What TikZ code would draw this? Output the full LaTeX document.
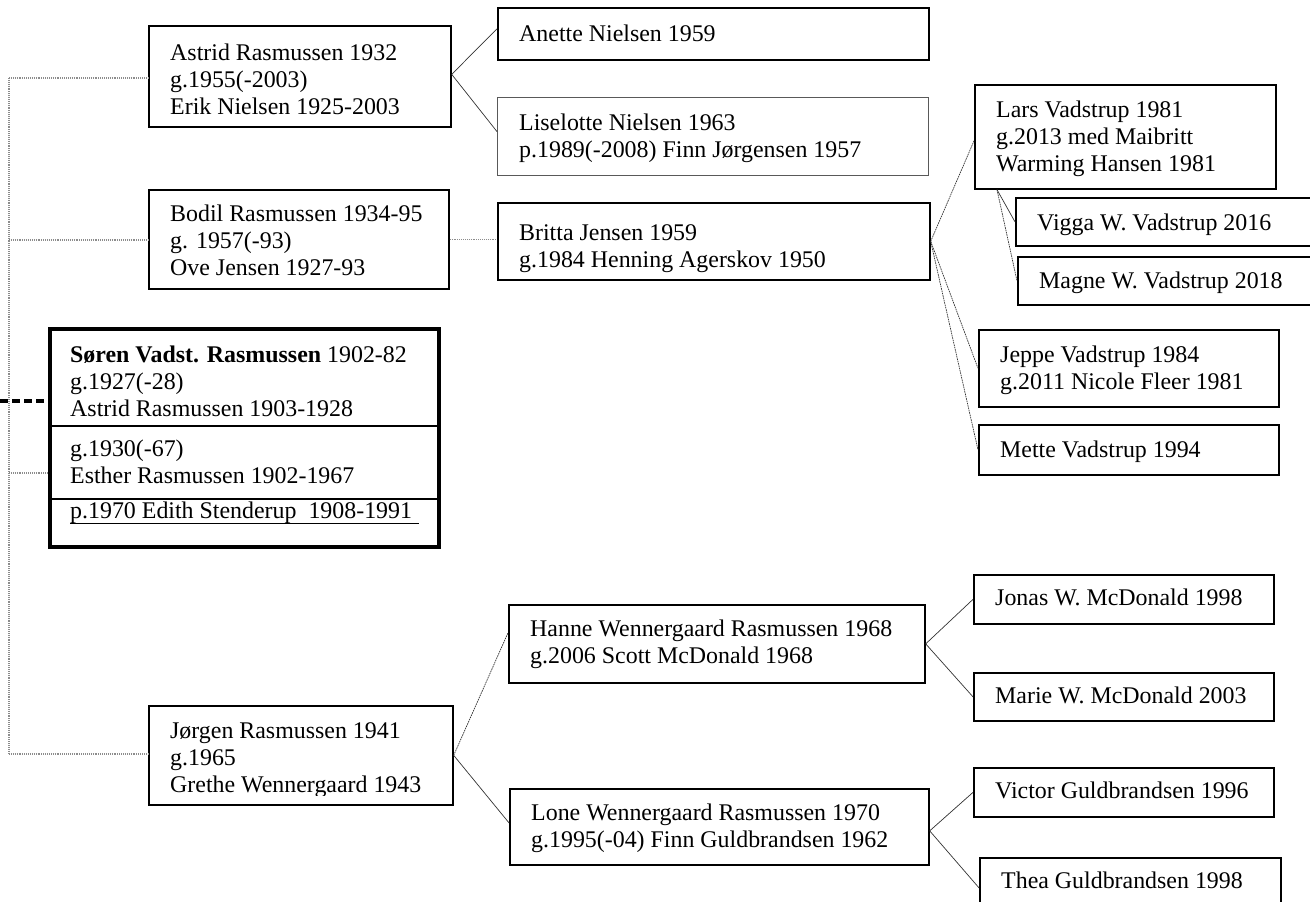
\documentclass[tikz,border=0pt]{standalone}
\usepackage{fontspec}
\setmainfont{Liberation Serif}
\usetikzlibrary{calc}
\newcommand\treefont{\fontsize{23.9}{27.3}\selectfont}
\begin{document}
\begin{tikzpicture}[x=1pt,y=-1pt,
  person/.style={draw=black,line width=1.7pt,inner sep=0pt,anchor=north west},
  faint/.style={person,draw=black!65,line width=1.2pt},
  label/.style={font=\treefont,align=left,inner sep=0pt,anchor=north west},
  tie/.style={draw=black!80,line width=0.7pt},
  finetie/.style={tie,dash pattern=on 1.6pt off 0.8pt},
  trunk/.style={draw=black!45,line width=1.3pt,dash pattern=on 1pt off 0.9pt},
  lineage/.style={draw=black,line width=4pt,dash pattern=on 8pt off 4pt},
  divider/.style={draw=black,line width=1.4pt},
]
\useasboundingbox (0,0) rectangle (1310,902);

% ---- boxes ----
\node[person,minimum width=302,minimum height=101] (astrid) at (148,25) {};
\node[person,minimum width=431,minimum height=52]  (anette) at (497,7) {};
\node[faint, minimum width=431,minimum height=78]  (lise)   at (497,97) {};
\node[person,minimum width=300,minimum height=99]  (bodil)  at (148,189) {};
\node[person,minimum width=432,minimum height=77]  (britta) at (497,202) {};
\node[person,minimum width=301,minimum height=104] (lars)   at (974,84) {};
\node[person,minimum width=305,minimum height=48]  (vigga)  at (1015,197) {};
\node[person,minimum width=303,minimum height=48]  (magne)  at (1017,256) {};
\node[person,minimum width=300,minimum height=77]  (jeppe)  at (978,329) {};
\node[person,minimum width=300,minimum height=50]  (mette)  at (978,424) {};
\node[person,line width=3.8pt,minimum width=389,minimum height=218] (soren) at (48,327) {};
\node[person,minimum width=304,minimum height=99]  (jorgen) at (148,705) {};
\node[person,minimum width=416,minimum height=78]  (hanne)  at (508,604) {};
\node[person,minimum width=419,minimum height=76]  (lone)   at (509,788) {};
\node[person,minimum width=300,minimum height=49]  (jonas)  at (973,574) {};
\node[person,minimum width=300,minimum height=48]  (marie)  at (973,672) {};
\node[person,minimum width=300,minimum height=49]  (victor) at (973,767) {};
\node[person,minimum width=301,minimum height=60]  (thea)   at (979,857) {};

% ---- texts ----
\node[label] (astrid-t) at ([shift={(22,16)}]astrid.north west) {\strut Astrid Rasmussen 1932\\g.1955(-2003)\\Erik Nielsen 1925-2003};
\node[label] (anette-t) at ([shift={(22,15)}]anette.north west) {\strut Anette Nielsen 1959};
\node[label] (lise-t)   at ([shift={(22,14)}]lise.north west) {\strut Liselotte Nielsen 1963\\p.1989(-2008) Finn Jørgensen 1957};
\node[label] (bodil-t)  at ([shift={(22,13)}]bodil.north west) {\strut Bodil Rasmussen 1934-95\\g. 1957(-93)\\Ove Jensen 1927-93};
\node[label] (britta-t) at ([shift={(22,19)}]britta.north west) {\strut Britta Jensen 1959\\g.1984 Henning Agerskov 1950};
\node[label] (lars-t)   at ([shift={(22,14)}]lars.north west) {\strut Lars Vadstrup 1981\\g.2013 med Maibritt\\Warming Hansen 1981};
\node[label] (vigga-t)  at ([shift={(22,14)}]vigga.north west) {\strut Vigga W. Vadstrup 2016};
\node[label] (magne-t)  at ([shift={(22,13)}]magne.north west) {\strut Magne W. Vadstrup 2018};
\node[label] (jeppe-t)  at ([shift={(22,14)}]jeppe.north west) {\strut Jeppe Vadstrup 1984\\g.2011 Nicole Fleer 1981};
\node[label] (mette-t)  at ([shift={(22,14)}]mette.north west) {\strut Mette Vadstrup 1994};
\node[label] (hanne-t)  at ([shift={(22,13)}]hanne.north west) {\strut Hanne Wennergaard Rasmussen 1968\\g.2006 Scott McDonald 1968};
\node[label] (lone-t)   at ([shift={(22,13)}]lone.north west) {\strut Lone Wennergaard Rasmussen 1970\\g.1995(-04) Finn Guldbrandsen 1962};
\node[label] (jonas-t)  at ([shift={(22,12)}]jonas.north west) {\strut Jonas W. McDonald 1998};
\node[label] (marie-t)  at ([shift={(22,12)}]marie.north west) {\strut Marie W. McDonald 2003};
\node[label] (victor-t) at ([shift={(22,12)}]victor.north west) {\strut Victor Guldbrandsen 1996};
\node[label] (thea-t)   at ([shift={(22,12)}]thea.north west) {\strut Thea Guldbrandsen 1998};

% the last line of this box is cut short by the frame
\begin{scope}
  \clip (148,705) rectangle (452,795);
  \node[label] (jorgen-t) at ([shift={(22,14)}]jorgen.north west) {\strut Jørgen Rasmussen 1941\\g.1965\\Grethe Wennergaard 1943};
\end{scope}

% main person, three marriages
\node[label] (soren-a) at (70,343) {\strut\textbf{Søren Vadst. Rasmussen} 1902-82\\g.1927(-28)\\Astrid Rasmussen 1903-1928};
\node[label] (soren-b) at (70,437) {\strut g.1930(-67)\\Esther Rasmussen 1902-1967};
\node[label] (soren-c) at (70,499) {\strut p.1970 Edith Stenderup\ \ 1908-1991};
\draw[divider] (soren.west |- 0,426) -- (soren.east |- 0,426);
\draw[divider] (soren.west |- 0,499) -- (soren.east |- 0,499);
\draw[line width=0.9pt] (soren-c.west |- 0,523) -- (419,523);

% ---- left trunk ----
\coordinate (trunk-top) at (9,78);
\coordinate (trunk-bodil) at (9,240);
\coordinate (trunk-soren) at (9,473);
\coordinate (trunk-bot) at (9,754);
\draw[trunk] (trunk-top) -- (trunk-bot);
\draw[trunk] (trunk-top) -- (trunk-top -| astrid.west);
\draw[trunk] (trunk-bodil) -- (trunk-bodil -| bodil.west);
\draw[trunk] (trunk-soren) -- (trunk-soren -| soren.west);
\draw[trunk] (trunk-bot) -- (trunk-bot -| jorgen.west);

\coordinate (lineage-end) at (0,401);
\draw[lineage] (lineage-end) -- (lineage-end -| soren.west);

% ---- connectors ----
\draw[tie] ([shift={(0,-2)}]astrid.east) -- ([shift={(0,-5)}]anette.west);
\draw[tie] ([shift={(0,-2)}]astrid.east) -- ([shift={(0,-5)}]lise.west);
\draw[trunk] (bodil.east) -- (bodil.east -| britta.west);
\draw[finetie] (britta.east) -- ([shift={(0,4)}]lars.west);
\draw[finetie] (britta.east) -- (jeppe.west);
\draw[finetie] (britta.east) -- (mette.west);
\draw[tie] ([shift={(23,0)}]lars.south west) -- (vigga.west);
\draw[finetie] ([shift={(23,0)}]lars.south west) -- (magne.west);
\draw[finetie] (jorgen.east) -- ([shift={(0,-11)}]hanne.west);
\draw[tie] (jorgen.east) -- ([shift={(0,-4)}]lone.west);
\draw[tie] (hanne.east) -- (jonas.west);
\draw[tie] (hanne.east) -- (marie.west);
\draw[tie] ([shift={(0,4)}]lone.east) -- (victor.west);
\draw[tie] ([shift={(0,4)}]lone.east) -- (thea.west);
\end{tikzpicture}
\end{document}
